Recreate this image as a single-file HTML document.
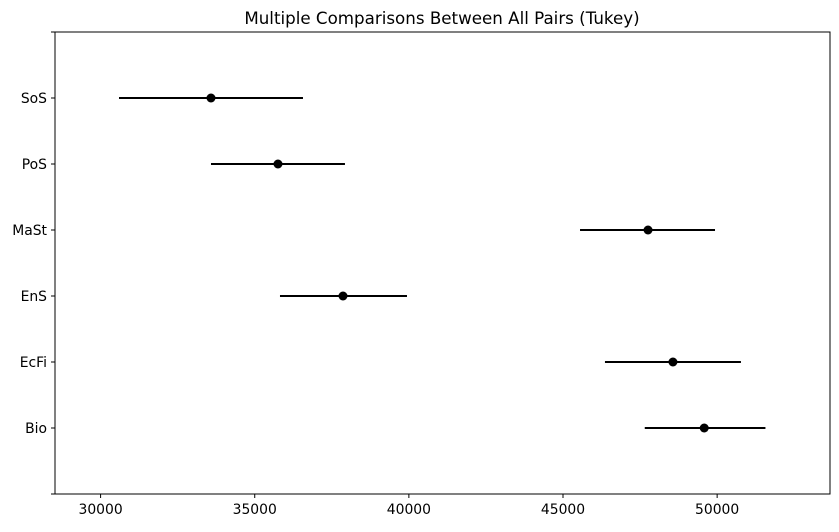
<!DOCTYPE html>
<html><head><meta charset="utf-8"><style>
body{margin:0;background:#fff;font-family:"DejaVu Sans","Liberation Sans",sans-serif}
svg text{font-family:"DejaVu Sans","Liberation Sans",sans-serif}
</style></head><body>
<svg id="chart" width="839" height="528" xmlns="http://www.w3.org/2000/svg">
<text x="442" y="24" text-anchor="middle" font-size="16.7">Multiple Comparisons Between All Pairs (Tukey)</text>
<rect x="55" y="32" width="775" height="462" fill="none" stroke="#000" stroke-width="1"/>
<g id="axes"></g><g id="marks"></g>
</svg>
<script>
const groups=["Bio","EcFi","EnS","MaSt","PoS","SoS"];
const means=[49581,48566,37863,47758,35754,33581];
const lows=[47652,46361,35819,45552,33581,30597];
const highs=[51567,50772,39939,49931,37927,36565];
const xTicks=[30000,35000,40000,45000,50000];
const L=55,R=830,T=32,B=494,xmin=28521,xmax=53661;
const x=v=>L+(v-xmin)/(xmax-xmin)*(R-L);
const y=i=>B-(i+1)/(groups.length+1)*(B-T);
const NS="http://www.w3.org/2000/svg";
const ax=document.getElementById('axes'),mk=document.getElementById('marks');
function el(t,a,p){const e=document.createElementNS(NS,t);for(const k in a)e.setAttribute(k,a[k]);p.appendChild(e);return e;}
xTicks.forEach(v=>{
 const t=el('line',{x1:x(v),x2:x(v),y1:B,y2:B+4,stroke:'#000'},ax);
 
 
 const l=el('text',{x:x(v),y:B+20,'text-anchor':'middle','font-size':13.9},ax);l.textContent=v;
 
 
});
[-1,groups.length].forEach(i=>{const t=el('line',{x1:L-4,x2:L,y1:y(i),y2:y(i),stroke:'#000'},ax);
 
 });
groups.forEach((g,i)=>{
 const t=el('line',{x1:L-4,x2:L,y1:y(i),y2:y(i),stroke:'#000'},ax);
 
 
 const l=el('text',{x:L-8,y:y(i)+5,'text-anchor':'end','font-size':13.9},ax);l.textContent=g;
 
 
 const ln=el('line',{x1:x(lows[i]),x2:x(highs[i]),y1:y(i),y2:y(i),stroke:'#000','stroke-width':2},mk);
 
 
 const c=el('circle',{cx:x(means[i]),cy:y(i),r:4.5,fill:'#000'},mk);
 
 
});
</script>
</body></html>
